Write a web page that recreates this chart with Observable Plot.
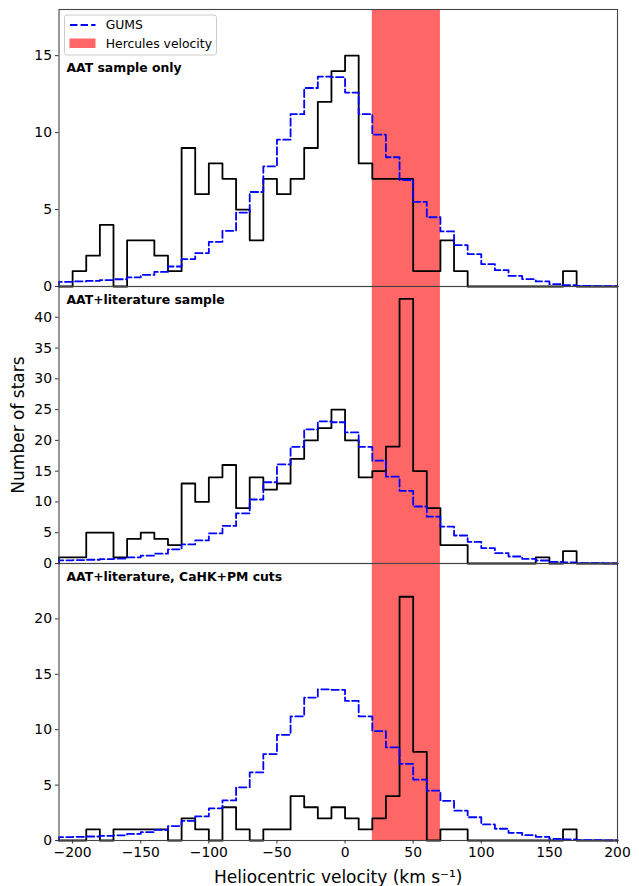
<!DOCTYPE html>
<html>
<head>
<meta charset="utf-8">
<script src="https://cdn.jsdelivr.net/npm/d3@7"></script>
<script src="https://cdn.jsdelivr.net/npm/@observablehq/plot@0.6"></script>
<style>
  body { margin: 0; background: #ffffff; }
  #chart { width: 639px; }
  #chart svg { display: block; overflow: visible; }
</style>
</head>
<body>
<div id="chart"></div>
<script>
// ---- Data ----
const binStarts = [-210,-200,-190,-180,-170,-160,-150,-140,-130,-120,
                   -110,-100,-90,-80,-70,-60,-50,-40,-30,-20,
                   -10,0,10,20,30,40,50,60,70,80,
                   90,100,110,120,130,140,150,160,170,180,190];
const binWidth = 10;

const aatOnly = [0,1,2,4,0,3,3,2,1,9,
                 6,8,7,5,3,7,6,7,9,12,
                 14,15,8,7,7,7,1,1,3,1,
                 0,0,0,0,0,0,0,1,0,0,0];

const aatLit = [1,1,5,5,1,4,5,4,3,13,
                10,14,16,9,14,12,13,17,20,22,
                25,20,14,15,19,43,15,9,3,3,
                0,0,0,0,0,1,0,2,0,0,0];

const aatCuts = [0,0,1,0,1,1,1,1,0,2,
                 1,0,3,1,0,1,1,4,3,2,
                 3,2,1,2,4,22,8,0,1,1,
                 0,0,0,0,0,0,0,1,0,0,0];

const gumsAAT = [0.30,0.33,0.36,0.42,0.47,0.59,0.75,0.95,1.30,1.78,
                 2.17,2.90,3.62,4.80,6.14,7.80,9.54,11.2,12.9,13.64,
                 13.6,12.6,11.2,9.87,8.40,6.92,5.50,4.50,3.58,2.69,
                 2.10,1.45,1.06,0.69,0.48,0.33,0.15,0.09,0.04,0.03,0.02];

const gumsLit = [0.51,0.56,0.61,0.71,0.79,1.00,1.27,1.60,2.30,3.10,
                 3.75,4.90,6.10,8.15,10.4,13.2,16.1,18.95,21.8,23.1,
                 22.95,21.3,18.95,16.7,14.1,11.8,9.26,7.60,6.00,4.55,
                 3.50,2.50,1.68,1.14,0.76,0.49,0.27,0.16,0.07,0.05,0.03];

const herculesRange = [20, 70];

const panelTitles = ["AAT sample only", "AAT+literature sample", "AAT+literature, CaHK+PM cuts"];
const yDomains = [[0, 18], [0, 45], [0, 25]];
const yTicks = [[0, 5, 10, 15], [0, 5, 10, 15, 20, 25, 30, 35, 40], [0, 5, 10, 15, 20]];
const xDomain = [-210, 200];
const xTicks = [-200, -150, -100, -50, 0, 50, 100, 150, 200];
const xLabel = "Heliocentric velocity (km s\u207B\u00B9)";
const yLabel = "Number of stars";
const legendLabels = ["GUMS", "Hercules velocity"];

// ---- Helpers ----
function stepPoints(values) {
  const pts = [{x: binStarts[0], y: 0}];
  values.forEach((v, i) => pts.push({x: binStarts[i], y: v}));
  const end = binStarts[binStarts.length - 1] + binWidth;
  pts.push({x: end, y: values[values.length - 1]});
  pts.push({x: end, y: 0});
  return pts;
}

const FONT = "DejaVu Sans";
const BAND = "#ff6666";
const BLUE = "#0000ff";
const DASH = "7.4,3.2";

function panel({black, gums, yDomain, ticks, title, titleDy, height, marginTop, marginBottom, bottomAxis, showYLabel}) {
  const marks = [
    Plot.rect([herculesRange], {x1: d => d[0], x2: d => d[1], fill: BAND}),
    Plot.line(stepPoints(black), {x: "x", y: "y", curve: "step-after", stroke: "black", strokeWidth: 1.8}),
    Plot.line(stepPoints(gums), {x: "x", y: "y", curve: "step-after", stroke: BLUE, strokeWidth: 1.8, strokeDasharray: DASH}),
    Plot.axisY({ticks, tickSize: 3.5, tickPadding: 3.5, label: null, fontSize: 13.9, stroke: "#333"}),
    Plot.text([title], {text: d => d, frameAnchor: "top-left", dx: 7.5, dy: titleDy, lineAnchor: "middle", textAnchor: "start", fontWeight: "bold", fontSize: 12.4, fill: "black"}),
    Plot.frame({stroke: "#444", strokeWidth: 1.1})
  ];
  if (bottomAxis) {
    marks.push(Plot.axisX({ticks: xTicks, tickSize: 3.5, tickPadding: 3.5, label: null, fontSize: 13.9, stroke: "#333"}));
    marks.push(Plot.text([xLabel], {text: d => d, frameAnchor: "bottom", dy: 37, lineAnchor: "middle", textAnchor: "middle", fontSize: 17, fill: "black"}));
  }
  if (showYLabel) {
    marks.push(Plot.text([yLabel], {text: d => d, frameAnchor: "left", dx: -40, rotate: -90, lineAnchor: "middle", textAnchor: "middle", fontSize: 17, fill: "black"}));
  }
  return Plot.plot({
    width: 639,
    height,
    marginLeft: 58.5,
    marginRight: 22,
    marginTop,
    marginBottom,
    style: {fontFamily: FONT, fontSize: "13.9px", overflow: "visible", background: "transparent", color: "black"},
    x: {domain: xDomain, axis: bottomAxis ? undefined : null},
    y: {domain: yDomain},
    marks
  });
}

const chart = document.getElementById("chart");

const p1 = panel({black: aatOnly, gums: gumsAAT, yDomain: yDomains[0], ticks: yTicks[0], title: panelTitles[0], titleDy: 59, height: 286, marginTop: 9, marginBottom: 0, bottomAxis: false, showYLabel: false});
const p2 = panel({black: aatLit, gums: gumsLit, yDomain: yDomains[1], ticks: yTicks[1], title: panelTitles[1], titleDy: 13.5, height: 277, marginTop: 0, marginBottom: 0, bottomAxis: false, showYLabel: true});
const p3 = panel({black: aatCuts, gums: gumsAAT, yDomain: yDomains[2], ticks: yTicks[2], title: panelTitles[2], titleDy: 13.8, height: 323, marginTop: 0, marginBottom: 46, bottomAxis: true, showYLabel: false});

chart.appendChild(p1);
chart.appendChild(p2);
chart.appendChild(p3);

// Legend inside the top panel (upper left)
const lg = d3.select(p1).append("g")
  .attr("font-family", FONT).attr("font-size", 12.4).attr("text-anchor", "start");
lg.append("rect").attr("x", 64.5).attr("y", 15).attr("width", 152).attr("height", 40)
  .attr("rx", 2.5).attr("fill", "white").attr("fill-opacity", 0.8).attr("stroke", "#cccccc").attr("stroke-width", 1);
lg.append("line").attr("x1", 70).attr("x2", 95.5).attr("y1", 25).attr("y2", 25)
  .attr("stroke", BLUE).attr("stroke-width", 1.8).attr("stroke-dasharray", DASH);
lg.append("text").attr("x", 105.7).attr("y", 25).attr("dy", "0.35em").attr("text-anchor", "start").attr("fill", "black").text(legendLabels[0]);
lg.append("rect").attr("x", 69.5).attr("y", 38.5).attr("width", 26).attr("height", 9.5).attr("fill", BAND);
lg.append("text").attr("x", 105.7).attr("y", 43.5).attr("dy", "0.35em").attr("text-anchor", "start").attr("fill", "black").text(legendLabels[1]);
</script>
</body>
</html>
